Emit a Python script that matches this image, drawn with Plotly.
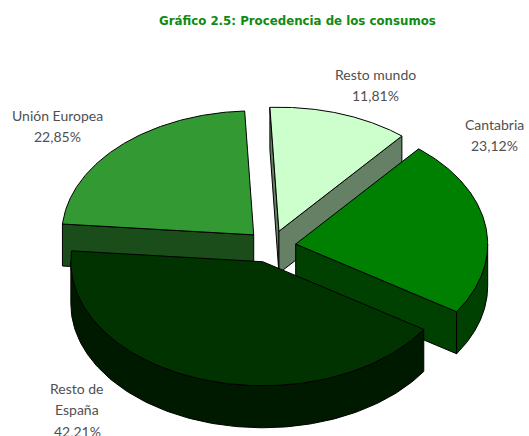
import numpy as np
import plotly.graph_objects as go

TITLE = "Gráfico 2.5: Procedencia de los consumos"
categories = ["Resto mundo", "Cantabria", "Resto de<br>España", "Unión Europea"]
shares = [11.81, 23.12, 42.21, 22.85]
top_colors = ["#CCFFCC", "#008000", "#003300", "#339933"]
side_colors = ["#668066", "#004000", "#001A00", "#1A4D1A"]
label_positions = [(375, 74), (494, 124), (77, 388), (57, 115)]
draw_order = [0, 3, 1, 2]

START_ANGLE = -2.7
CENTER_X, CENTER_Y = 271, 246.5
RADIUS_X, RADIUS_Y = 192, 124
PULL = 0.13
DEPTH = 42
LINE_STEP = 21.8
FONT = "Lato"

fig = go.Figure()


def polygon(xs, ys, color):
    fig.add_trace(go.Scatter(
        x=np.append(xs, xs[0]), y=np.append(ys, ys[0]), mode="lines", fill="toself",
        fillcolor=color, line=dict(color="black", width=1), hoverinfo="skip", showlegend=False,
    ))


def wedge_geometry(start, sweep):
    mid = np.radians(start + sweep / 2)
    apex_x = CENTER_X + np.sin(mid) * RADIUS_X * PULL
    apex_y = CENTER_Y - np.cos(mid) * RADIUS_Y * PULL
    return apex_x, apex_y


def rim(apex_x, apex_y, a_deg, b_deg):
    t = np.radians(np.linspace(a_deg, b_deg, 120))
    return apex_x + RADIUS_X * np.sin(t), apex_y - RADIUS_Y * np.cos(t)


sweeps = [s / sum(shares) * 360 for s in shares]
starts = [START_ANGLE + sum(sweeps[:i]) for i in range(len(sweeps))]

for i in draw_order:
    start, sweep = starts[i], sweeps[i]
    end = start + sweep
    ax, ay = wedge_geometry(start, sweep)
    for ang, visible in ((start, np.sin(np.radians(start)) < 0), (end, np.sin(np.radians(end)) > 0)):
        if visible:
            ex, ey = rim(ax, ay, ang, ang)
            polygon(np.array([ax, ex[0], ex[0], ax]), np.array([ay, ey[0], ey[0] + DEPTH, ay + DEPTH]), side_colors[i])
    lo, hi = max(start, 90), min(end, 270)
    if lo < hi:
        rx, ry = rim(ax, ay, lo, hi)
        polygon(np.concatenate([rx, rx[::-1]]), np.concatenate([ry, ry[::-1] + DEPTH]), side_colors[i])
    rx, ry = rim(ax, ay, start, end)
    polygon(np.concatenate([[ax], rx]), np.concatenate([[ay], ry]), top_colors[i])

for name, share, (lx, ly) in zip(categories, shares, label_positions):
    lines = name.split("<br>") + [f"{share:.2f}%".replace(".", ",")]
    for n, line in enumerate(lines):
        fig.add_annotation(x=lx, y=ly + n * LINE_STEP, text=line, showarrow=False, xanchor="center", yanchor="middle",
                           align="center", font=dict(family=FONT, size=14, color="#505050"))

fig.add_annotation(x=297, y=21, text=f"<b>{TITLE}</b>", showarrow=False, xanchor="center", yanchor="middle",
                   font=dict(family="DejaVu Sans", size=11.8, color="#108A10"))

fig.update_layout(
    width=529, height=436, margin=dict(l=0, r=0, t=0, b=0),
    paper_bgcolor="white", plot_bgcolor="white", showlegend=False,
    xaxis=dict(range=[0, 529], visible=False, fixedrange=True),
    yaxis=dict(range=[436, 0], visible=False, fixedrange=True),
)
fig.write_html("out.html", config={"displayModeBar": False},
               post_script="document.body.style.margin='0';document.body.style.overflow='hidden';")
